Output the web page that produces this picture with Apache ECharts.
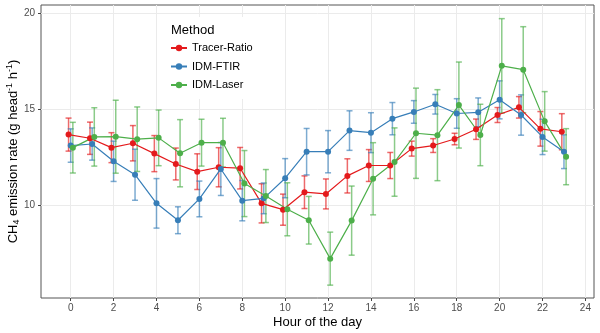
<!DOCTYPE html>
<html>
<head>
<meta charset="utf-8">
<script src="https://cdn.jsdelivr.net/npm/echarts@6/dist/echarts.min.js"></script>
<style>
html, body { margin: 0; padding: 0; background: #fff; }
#chart { width: 600px; height: 333px; }
</style>
</head>
<body>
<div id="chart"></div>
<script>
// hour of the day (x) and axis ticks
const hours = [0, 1, 2, 3, 4, 5, 6, 7, 8, 9, 10, 11, 12, 13, 14, 15, 16, 17, 18, 19, 20, 21, 22, 23];
const xTicks = [0, 2, 4, 6, 8, 10, 12, 14, 16, 18, 20, 22, 24];
const yTicks = [10, 15, 20];

// mean emission rate and half-width of the error bar, per method
const tracerMean = [13.70, 13.51, 13.02, 13.25, 12.71, 12.17, 11.77, 12.00, 11.95, 10.12, 9.79, 10.70, 10.61, 11.55, 12.09, 12.09, 12.97, 13.13, 13.47, 13.98, 14.72, 15.12, 14.00, 13.85];
const tracerErr = [0.86, 0.84, 0.78, 0.92, 0.94, 0.83, 0.93, 1.02, 1.08, 1.02, 0.81, 0.85, 0.78, 0.89, 0.83, 0.68, 0.39, 0.36, 0.30, 0.53, 0.39, 0.56, 0.90, 0.94];

const ftirMean = [13.13, 13.21, 12.31, 11.61, 10.12, 9.24, 10.35, 11.91, 10.26, 10.38, 11.43, 12.81, 12.81, 13.91, 13.80, 14.53, 14.88, 15.28, 14.80, 14.86, 15.51, 14.72, 13.58, 12.81];
const ftirErr = [0.87, 0.84, 1.05, 1.33, 1.29, 0.70, 0.93, 1.38, 1.05, 0.80, 1.02, 1.21, 1.10, 1.03, 1.04, 0.84, 0.59, 0.51, 0.77, 0.75, 0.99, 1.05, 0.92, 0.88];

const laserMean = [13.02, 13.58, 13.59, 13.46, 13.53, 12.73, 13.28, 13.28, 11.15, 10.50, 9.81, 9.24, 7.24, 9.22, 11.40, 12.27, 13.77, 13.67, 15.24, 13.68, 17.28, 17.08, 14.39, 12.55];
const laserErr = [1.32, 1.52, 1.90, 1.68, 1.45, 1.75, 1.22, 1.27, 1.72, 1.38, 1.38, 1.24, 1.38, 1.80, 1.88, 1.78, 2.35, 2.37, 2.24, 1.60, 2.46, 2.24, 1.55, 1.46];

const methods = [
    { name: 'Tracer-Ratio', mean: tracerMean, err: tracerErr, color: '#E41A1C', bar: 'rgba(228,26,28,0.65)', dodge: -0.1 },
    { name: 'IDM-FTIR', mean: ftirMean, err: ftirErr, color: '#377EB8', bar: 'rgba(55,126,184,0.65)', dodge: 0 },
    { name: 'IDM-Laser', mean: laserMean, err: laserErr, color: '#4DAF4A', bar: 'rgba(77,175,74,0.65)', dodge: 0.1 }
];

const font = 'Liberation Sans, Arial, sans-serif';

// vertical error bar with caps
function errorBar(color) {
    return function (params, api) {
        const x = api.value(0);
        const lo = api.coord([x, api.value(1)]);
        const hi = api.coord([x, api.value(2)]);
        const half = 3;
        const style = { stroke: color, lineWidth: 1.5, fill: null };
        return {
            type: 'group',
            children: [
                { type: 'line', shape: { x1: lo[0], y1: lo[1], x2: hi[0], y2: hi[1] }, style: style },
                { type: 'line', shape: { x1: lo[0] - half, y1: lo[1], x2: lo[0] + half, y2: lo[1] }, style: style },
                { type: 'line', shape: { x1: hi[0] - half, y1: hi[1], x2: hi[0] + half, y2: hi[1] }, style: style }
            ]
        };
    };
}

const series = [];
methods.forEach(function (m) {
    series.push({
        name: m.name + ' sd',
        type: 'custom',
        z: 1,
        renderItem: errorBar(m.bar),
        encode: { x: 0, y: [1, 2] },
        data: hours.map((h, i) => [h + m.dodge, m.mean[i] - m.err[i], m.mean[i] + m.err[i]]),
        silent: true
    });
});
methods.forEach(function (m) {
    series.push({
        name: m.name,
        type: 'line',
        z: 3,
        symbol: 'circle',
        symbolSize: 6,
        color: m.color,
        lineStyle: { width: 1.2, color: m.color },
        itemStyle: { color: m.color },
        data: hours.map((h, i) => [h + m.dodge, m.mean[i]]),
        animation: false
    });
});

const chart = echarts.init(document.getElementById('chart'), null, { renderer: 'canvas' });

const option = {
    animation: false,
    backgroundColor: '#fff',
    textStyle: { fontFamily: font },
    grid: {
        left: 41, right: 6, top: 5, bottom: 35,
        outerBoundsMode: 'none',
        containLabel: false,
        show: true, borderColor: '#555', borderWidth: 1, backgroundColor: 'transparent'
    },
    title: {
        text: 'Method',
        left: 166, top: 19,
        z: 10,
        textStyle: { fontSize: 13, fontWeight: 'normal', color: '#000', fontFamily: font }
    },
    legend: {
        data: methods.map(m => m.name),
        orient: 'vertical',
        left: 160, top: 17,
        padding: [25, 12, 8, 10],
        backgroundColor: '#fff',
        itemWidth: 16, itemHeight: 8, itemGap: 6.5, itemTextGap: 7,
        textStyle: { fontSize: 11, lineHeight: 12, color: '#000', fontFamily: font }
    },
    xAxis: {
        type: 'value',
        min: -1.385, max: 24.4,
        name: 'Hour of the day',
        nameLocation: 'middle',
        nameGap: 18,
        nameMoveOverlap: false,
        nameTextStyle: { fontSize: 13, color: '#000', fontFamily: font },
        axisLine: { show: false, onZero: false },
        axisTick: { show: true, length: 3, customValues: xTicks, lineStyle: { color: '#444' } },
        axisLabel: { customValues: xTicks, margin: 5, fontSize: 10, color: '#4D4D4D', fontFamily: font },
        splitLine: { show: true, lineStyle: { color: '#EBEBEB', width: 1 } }
    },
    yAxis: {
        type: 'value',
        min: 5.19, max: 20.45,
        name: 'CH{sub|4} emission rate (g head{sup|-1} h{sup|-1})',
        nameLocation: 'middle',
        nameRotate: 90,
        nameGap: 20,
        nameMoveOverlap: false,
        nameTextStyle: {
            fontSize: 13, color: '#000', fontFamily: font, lineHeight: 16,
            rich: {
                sub: { fontSize: 9, lineHeight: 9, verticalAlign: 'bottom', color: '#000', fontFamily: font },
                sup: { fontSize: 9, lineHeight: 9, verticalAlign: 'top', color: '#000', fontFamily: font }
            }
        },
        axisLine: { show: false, onZero: false },
        axisTick: { show: true, length: 3, customValues: yTicks, lineStyle: { color: '#444' } },
        axisLabel: { customValues: yTicks, margin: 6, fontSize: 10, color: '#4D4D4D', fontFamily: font },
        splitLine: { show: true, lineStyle: { color: '#EBEBEB', width: 1 } }
    },
    series: series
};

chart.setOption(option);
</script>
</body>
</html>
